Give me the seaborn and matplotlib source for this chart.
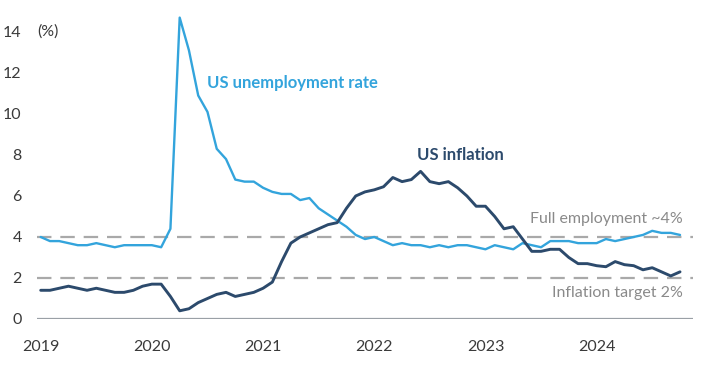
import numpy as np
import pandas as pd
import matplotlib
matplotlib.use("Agg")
import matplotlib.pyplot as plt
import seaborn as sns

# monthly data, Jan 2019 - Oct 2024 (%)
unemployment = [
    4.0, 3.8, 3.8, 3.7, 3.6, 3.6, 3.7, 3.6, 3.5, 3.6, 3.6, 3.6,     # 2019
    3.6, 3.5, 4.4, 14.7, 13.1, 10.9, 10.1, 8.3, 7.8, 6.8, 6.7, 6.7,  # 2020
    6.4, 6.2, 6.1, 6.1, 5.8, 5.9, 5.4, 5.1, 4.8, 4.5, 4.1, 3.9,     # 2021
    4.0, 3.8, 3.6, 3.7, 3.6, 3.6, 3.5, 3.6, 3.5, 3.6, 3.6, 3.5,     # 2022
    3.4, 3.6, 3.5, 3.4, 3.7, 3.6, 3.5, 3.8, 3.8, 3.8, 3.7, 3.7,     # 2023
    3.7, 3.9, 3.8, 3.9, 4.0, 4.1, 4.3, 4.2, 4.2, 4.1,               # 2024
]
inflation = [
    1.4, 1.4, 1.5, 1.6, 1.5, 1.4, 1.5, 1.4, 1.3, 1.3, 1.4, 1.6,     # 2019
    1.7, 1.7, 1.1, 0.4, 0.5, 0.8, 1.0, 1.2, 1.3, 1.1, 1.2, 1.3,     # 2020
    1.5, 1.8, 2.8, 3.7, 4.0, 4.2, 4.4, 4.6, 4.7, 5.4, 6.0, 6.2,     # 2021
    6.3, 6.45, 6.9, 6.7, 6.8, 7.2, 6.7, 6.6, 6.7, 6.4, 6.0, 5.5,    # 2022
    5.5, 5.0, 4.4, 4.5, 3.9, 3.3, 3.3, 3.4, 3.4, 3.0, 2.7, 2.7,     # 2023
    2.6, 2.55, 2.8, 2.65, 2.6, 2.4, 2.5, 2.3, 2.1, 2.3,             # 2024
]
year_labels = ["2019", "2020", "2021", "2022", "2023", "2024"]
y_ticks = [0, 2, 4, 6, 8, 10, 12, 14]
full_employment = 4
inflation_target = 2

month = np.arange(len(unemployment))
df = pd.DataFrame({"month": month, "unemployment": unemployment, "inflation": inflation})

sns.set_style("white")
plt.rcParams["font.family"] = ["Lato", "DejaVu Sans"]

light_blue = "#33a4dc"
navy = "#2c4a6c"
grey = "#a9a9a9"

fig = plt.figure(figsize=(7.04, 3.81), dpi=100)
ax = fig.add_axes([37 / 704, 62 / 381, 656 / 704, 305.5 / 381])

# reference lines
ax.axhline(full_employment, color=grey, lw=1.6, dashes=(6.5, 4))
ax.axhline(inflation_target, color=grey, lw=1.6, dashes=(6.5, 4))
ax.axhline(0, color="#9aa0a6", lw=1.6)

sns.lineplot(data=df, x="month", y="unemployment", color=light_blue, lw=1.7, ax=ax)
sns.lineplot(data=df, x="month", y="inflation", color=navy, lw=2.1, ax=ax)

ax.set_xlim(-0.4, 70.4)
ax.set_ylim(0, 14.9)
ax.set_xticks(np.arange(len(year_labels)) * 12)
ax.set_xticklabels(year_labels)
ax.set_yticks(y_ticks)
ax.set_yticklabels([str(t) for t in y_ticks])
ax.tick_params(axis="both", length=0, labelsize=11.5, labelcolor="#3a3a3a")
ax.tick_params(axis="x", pad=15)
ax.tick_params(axis="y", pad=11)
ax.set_xlabel("")
ax.set_ylabel("")
for s in ax.spines.values():
    s.set_visible(False)

ax.text(0.0, 14, "(%)", transform=ax.get_yaxis_transform(), ha="left", va="center",
        fontsize=11.5, color="#3a3a3a")
ax.text(18.0, 11.5, "US unemployment rate", color=light_blue, fontsize=12,
        fontweight="bold", ha="left", va="center")
ax.text(45.3, 8.0, "US inflation", color=navy, fontsize=12,
        fontweight="bold", ha="center", va="center")
ax.text(69.3, 4.9, "Full employment ~4%", color="#8a8a8a", fontsize=11.5,
        ha="right", va="center")
ax.text(69.3, 1.25, "Inflation target 2%", color="#8a8a8a", fontsize=11.5,
        ha="right", va="center")

fig.savefig("out.png", dpi=100)
